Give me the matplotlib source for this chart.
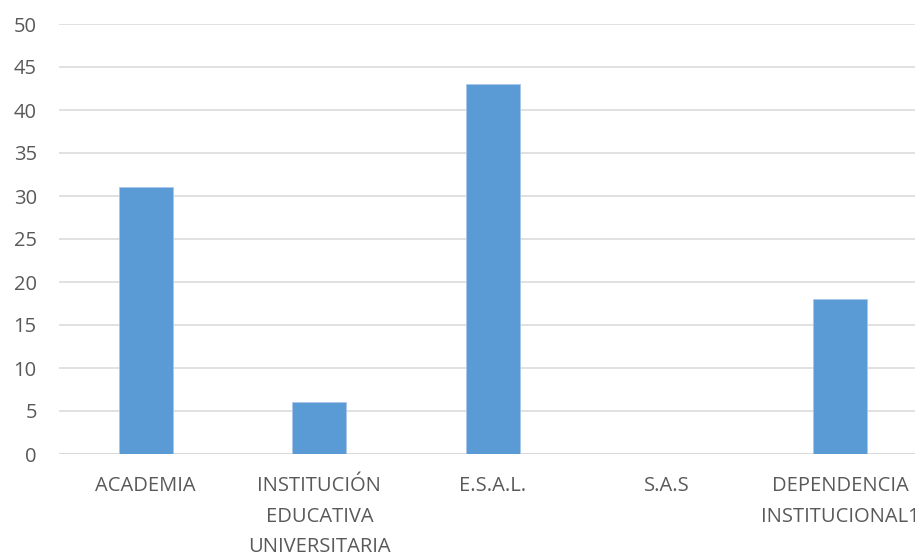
import matplotlib
matplotlib.use("Agg")
import matplotlib.pyplot as plt

categories = ["ACADEMIA", "INSTITUCIÓN\nEDUCATIVA\nUNIVERSITARIA", "E.S.A.L.", "S.A.S", "DEPENDENCIA\nINSTITUCIONAL1"]
values = [31, 6, 43, 0, 18]
yticks = [0, 5, 10, 15, 20, 25, 30, 35, 40, 45, 50]

plt.rcParams['font.family'] = ['Open Sans', 'DejaVu Sans']
fig = plt.figure(figsize=(9.15, 5.52), dpi=100)
ax = fig.add_axes([59/915, 98/552, 868/915, 430/552])

x = list(range(len(categories)))
ax.bar(x, values, width=0.31, color="#5b9bd5", edgecolor="#a9c8ea", linewidth=0.6, zorder=3)
ax.set_xlim(-0.5, len(categories) - 0.5)
ax.set_ylim(0, 50)
ax.set_yticks(yticks)
ax.yaxis.grid(True, color="#d9d9d9", linewidth=1.1, zorder=0)
ax.set_axisbelow(True)
for s in ax.spines.values():
    s.set_visible(False)
ax.axhline(0, color="#d9d9d9", linewidth=1.1, zorder=1)
ax.set_xticks(x)
ax.set_xticklabels(categories, linespacing=1.7)
ax.tick_params(axis='both', length=0, colors="#595959", labelsize=14.5)
ax.tick_params(axis='y', pad=16)
ax.tick_params(axis='x', pad=16)

fig.savefig("out.png", dpi=100)
